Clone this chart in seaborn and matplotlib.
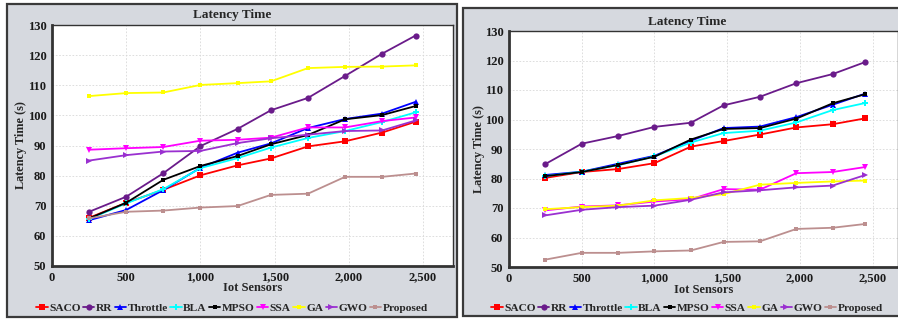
import matplotlib
matplotlib.use("Agg")
import matplotlib.pyplot as plt
import matplotlib.ticker as mticker
from matplotlib.patches import Rectangle
import pandas as pd
import seaborn as sns

SENSORS = [250, 500, 750, 1000, 1250, 1475, 1725, 1975, 2225, 2450]
METHODS = ["SACO", "RR", "Throttle", "BLA", "MPSO", "SSA", "GA", "GWO", "Proposed"]

# left chart
LEFT_SACO = [66.0, 71.0, 75.3, 80.1, 83.4, 85.7, 89.7, 91.4, 94.3, 97.9]
LEFT_RR = [68.0, 73.0, 80.8, 89.8, 95.5, 101.7, 105.8, 113.1, 120.5, 126.5]
LEFT_THROTTLE = [65.2, 68.6, 75.2, 82.6, 87.6, 90.7, 95.8, 98.8, 100.6, 104.5]
LEFT_BLA = [65.6, 70.8, 75.5, 82.5, 85.8, 89.3, 92.5, 94.8, 97.8, 101.0]
LEFT_MPSO = [65.8, 71.0, 78.6, 83.2, 86.5, 90.4, 93.5, 98.7, 100.1, 103.1]
LEFT_SSA = [88.6, 89.1, 89.5, 91.6, 91.9, 92.6, 96.0, 96.0, 98.1, 99.3]
LEFT_GA = [106.4, 107.4, 107.6, 110.1, 110.7, 111.3, 115.7, 116.1, 116.2, 116.6]
LEFT_GWO = [85.0, 86.8, 88.0, 88.2, 90.8, 92.4, 93.6, 94.8, 95.0, 98.3]
LEFT_PROPOSED = [65.8, 68.0, 68.4, 69.4, 69.9, 73.6, 74.0, 79.6, 79.6, 80.7]

# right chart
RIGHT_SACO = [80.2, 82.2, 83.2, 85.2, 90.8, 92.7, 94.9, 97.3, 98.4, 100.4]
RIGHT_RR = [84.9, 91.8, 94.4, 97.5, 98.9, 104.8, 107.7, 112.3, 115.4, 119.5]
RIGHT_THROTTLE = [81.2, 82.3, 85.0, 87.7, 92.8, 97.1, 97.6, 100.8, 105.0, 108.8]
RIGHT_BLA = [80.8, 82.3, 84.5, 87.5, 92.2, 95.4, 96.2, 99.0, 103.2, 105.6]
RIGHT_MPSO = [80.8, 82.2, 84.6, 87.4, 93.2, 96.8, 97.1, 100.3, 105.5, 108.6]
RIGHT_SSA = [69.2, 70.5, 70.9, 72.2, 73.0, 76.4, 76.2, 81.8, 82.2, 83.9]
RIGHT_GA = [69.6, 70.3, 70.8, 72.6, 73.4, 74.7, 77.9, 78.5, 79.0, 79.3]
RIGHT_GWO = [67.5, 69.4, 70.3, 70.8, 72.8, 75.3, 76.0, 77.0, 77.6, 81.2]
RIGHT_PROPOSED = [52.5, 54.8, 54.8, 55.3, 55.6, 58.5, 58.7, 62.9, 63.3, 64.6]

PALETTE = {
    "SACO": "#ff0000", "RR": "#6a1b8a", "Throttle": "#0000ff", "BLA": "#00ffff",
    "MPSO": "#000000", "SSA": "#ff00ff", "GA": "#ffff00", "GWO": "#9a30d0",
    "Proposed": "#bc8f8f",
}
MARKERS = {
    "SACO": "s", "RR": "o", "Throttle": "^", "BLA": "P", "MPSO": "s",
    "SSA": "v", "GA": "s", "GWO": ">", "Proposed": "s",
}
MSIZE = {"SACO": 5, "RR": 4.5, "Throttle": 5, "BLA": 4.5, "MPSO": 3.5,
         "SSA": 5, "GA": 2.5, "GWO": 5, "Proposed": 3.5}

W, H = 898, 320
PANEL_BG = "#d6d9df"
FONT = ["Liberation Serif", "DejaVu Serif"]


def long_frame(series):
    rows = []
    for name, vals in zip(METHODS, series):
        for x, y in zip(SENSORS, vals):
            rows.append({"sensors": x, "latency": y, "method": name})
    return pd.DataFrame(rows)


def px_rect(x0, y0, x1, y1):
    return [x0 / W, 1 - y1 / H, (x1 - x0) / W, (y1 - y0) / H]


def draw_panel(fig, df, panel, axbox, xmax, title_xy, ylab_x, xlab_y, leg_y):
    px0, py0, px1, py1 = panel
    fig.patches.append(Rectangle((px0 / W, 1 - py1 / H), (px1 - px0) / W, (py1 - py0) / H,
                                 transform=fig.transFigure, facecolor=PANEL_BG,
                                 edgecolor="#3a3a3a", linewidth=1.6, zorder=-5))
    ax = fig.add_axes(px_rect(*axbox))
    ax.set_zorder(2)
    ax.set_facecolor("white")
    ax.grid(True, color="#d8d8d8", linestyle=(0, (2, 2)), linewidth=0.6)
    ax.set_axisbelow(True)

    for name in METHODS:
        sub = df[df["method"] == name]
        sns.lineplot(data=sub, x="sensors", y="latency", color=PALETTE[name],
                     marker=MARKERS[name], markersize=MSIZE[name], markeredgewidth=0,
                     linewidth=1.3, label=name, ax=ax, legend=False)

    ax.set_xlim(0, xmax)
    ax.set_ylim(50, 130)
    ax.xaxis.set_major_locator(mticker.MultipleLocator(500))
    ax.yaxis.set_major_locator(mticker.MultipleLocator(10))
    ax.xaxis.set_major_formatter(mticker.FuncFormatter(lambda v, p: f"{int(v):,}"))
    ax.tick_params(length=2, width=0.8, pad=2, labelsize=9, colors="#1a1a1a")
    for lab in ax.get_xticklabels() + ax.get_yticklabels():
        lab.set_fontweight("bold")
    for side in ["left", "bottom"]:
        ax.spines[side].set_linewidth(2.0)
        ax.spines[side].set_color("#333333")
    for side in ["top", "right"]:
        ax.spines[side].set_linewidth(1.0)
        ax.spines[side].set_color("#333333")
    ax.set_xlabel("")
    ax.set_ylabel("")

    fig.text(title_xy[0] / W, 1 - title_xy[1] / H, "Latency Time", ha="center", va="center",
             fontsize=9.5, fontweight="bold")
    fig.text(ylab_x / W, 1 - ((axbox[1] + axbox[3]) / 2) / H, "Latency Time (s)",
             rotation=90, ha="center", va="center", fontsize=8.8, fontweight="bold")
    fig.text(((axbox[0] + min(axbox[2], W)) / 2) / W, 1 - xlab_y / H, "Iot Sensors",
             ha="center", va="center", fontsize=9, fontweight="bold")

    handles = [plt.Line2D([], [], color=PALETTE[m], marker=MARKERS[m], markersize=MSIZE[m],
                          markeredgewidth=0, linewidth=1.3) for m in METHODS]
    fig.legend(handles, METHODS, loc="center", bbox_to_anchor=(title_xy[0] / W, 1 - leg_y / H),
               ncol=9, frameon=False, handlelength=1.0, handletextpad=0.12,
               columnspacing=0.22, borderpad=0, borderaxespad=0,
               prop={"family": FONT, "weight": "bold", "size": 8.2})
    return ax


def main():
    sns.set_theme(style="white")
    plt.rcParams["font.family"] = FONT
    plt.rcParams["font.weight"] = "bold"

    left_df = long_frame([LEFT_SACO, LEFT_RR, LEFT_THROTTLE, LEFT_BLA, LEFT_MPSO,
                          LEFT_SSA, LEFT_GA, LEFT_GWO, LEFT_PROPOSED])
    right_df = long_frame([RIGHT_SACO, RIGHT_RR, RIGHT_THROTTLE, RIGHT_BLA, RIGHT_MPSO,
                           RIGHT_SSA, RIGHT_GA, RIGHT_GWO, RIGHT_PROPOSED])

    fig = plt.figure(figsize=(W / 100, H / 100), dpi=100)
    fig.patch.set_facecolor("white")

    draw_panel(fig, left_df, (7, 4, 457, 317), (52, 25, 453, 266), 2702,
               (232, 15), 21, 288, 308)
    draw_panel(fig, right_df, (463, 8, 910, 316), (509, 31, 898, 267), 2674,
               (687, 22), 479, 290, 308)

    fig.savefig("out.png", dpi=100)
    plt.close(fig)


if __name__ == "__main__":
    main()
